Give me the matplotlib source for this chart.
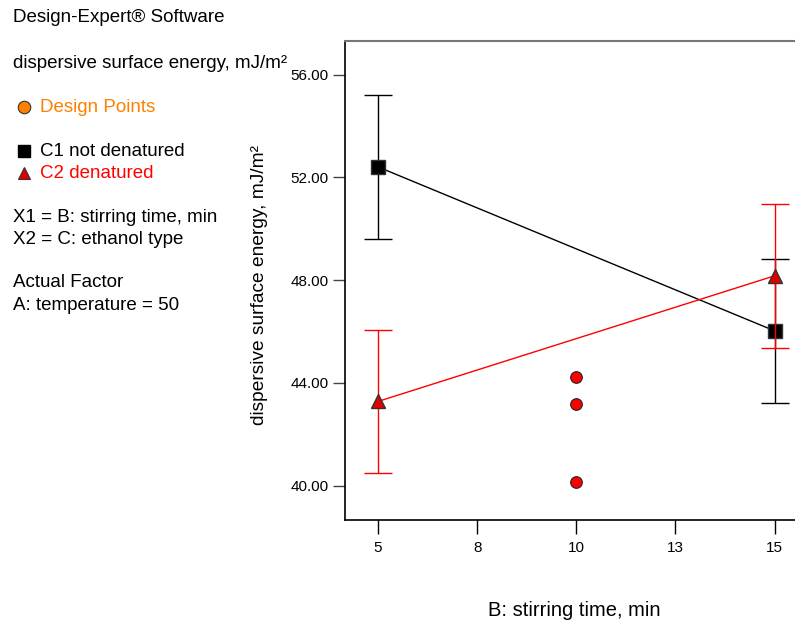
import matplotlib
matplotlib.use("Agg")
import matplotlib.pyplot as plt
import numpy as np

plt.rcParams['font.family'] = ['Liberation Sans', 'DejaVu Sans']

# Data
x_levels = [5, 15]
c1_means = [52.41, 46.03]
c1_err = [2.80, 2.80]
c2_means = [43.28, 48.17]
c2_err = [2.77, 2.80]
design_x = [10, 10, 10]
design_y = [44.25, 43.19, 40.15]
xticks = [5, 7.5, 10, 12.5, 15]
xtick_labels = ['5', '8', '10', '13', '15']
yticks = [40, 44, 48, 52, 56]
ytick_labels = ['40.00', '44.00', '48.00', '52.00', '56.00']

W, H = 795, 624
fig = plt.figure(figsize=(W / 100, H / 100), dpi=100)

# axes: left 345px, right beyond figure, top 41px, bottom 520px
l, r, t, b = 345, 815, 41, 520
ax = fig.add_axes([l / W, 1 - b / H, (r - l) / W, (b - t) / H])

ppx = (774.5 - 378) / 10
ax.set_xlim(5 - (378 - l) / ppx, 15 + (r - 774.5) / ppx)
ppy = (485.7 - 74.7) / 16
ax.set_ylim(40 - (b - 485.7) / ppy, 56 + (74.7 - t) / ppy)

ax.errorbar(x_levels, c1_means, yerr=c1_err, color='black', lw=1.0,
            capsize=10, capthick=1.0, marker='s', ms=10, mfc='black',
            mec='#333333', zorder=3)
ax.errorbar(x_levels, c2_means, yerr=c2_err, color='red', lw=1.0,
            capsize=10, capthick=1.0, marker='^', ms=10, mfc='#e00000',
            mec='#333333', zorder=4)
ax.scatter(design_x, design_y, s=70, c='red', edgecolors='#222222',
           linewidths=0.8, zorder=5)

ax.set_xticks(xticks)
ax.set_xticklabels(xtick_labels)
ax.set_yticks(yticks)
ax.set_yticklabels(ytick_labels)
ax.tick_params(axis='x', direction='out', length=10, width=1, labelsize=11, pad=5)
ax.tick_params(axis='y', direction='out', length=9, width=1, labelsize=11, pad=3,
               color='#444444')
ax.spines['right'].set_visible(False)
for s in ['left', 'bottom']:
    ax.spines[s].set_color('black')
    ax.spines[s].set_linewidth(1.2)
ax.spines['top'].set_color('#777777')
ax.spines['top'].set_linewidth(1.5)

fig.text(574 / W, 1 - 610 / H, 'B: stirring time, min', fontsize=14.5,
         ha='center', va='center')
fig.text(260 / W, 1 - 285 / H, 'dispersive surface energy, mJ/m²', fontsize=13.8,
         ha='center', va='center', rotation=90)

# Left annotation block
fs = 13.5
def txt(x, y, s, color='black'):
    fig.text(x / W, 1 - y / H, s, fontsize=fs, color=color, ha='left', va='center')

txt(13, 18, 'Design-Expert® Software')
txt(13, 63, 'dispersive surface energy, mJ/m²')
txt(40, 107, 'Design Points', color='#ff8000')
txt(40, 151, 'C1 not denatured')
txt(40, 173, 'C2 denatured', color='red')
txt(13, 217, 'X1 = B: stirring time, min')
txt(13, 239, 'X2 = C: ethanol type')
txt(13, 283, 'Actual Factor')
txt(13, 305, 'A: temperature = 50')

lax = fig.add_axes([0, 0, 1, 1], facecolor='none')
lax.set_xlim(0, W)
lax.set_ylim(H, 0)
lax.axis('off')
lax.plot([23.5], [107], 'o', ms=9, mfc='#ff8000', mec='#333333', mew=0.8)
lax.plot([23.5], [151], 's', ms=9, mfc='black', mec='black')
lax.plot([23.5], [173], '^', ms=9, mfc='#e00000', mec='#333333', mew=0.8)

fig.savefig('out.png', dpi=100)
